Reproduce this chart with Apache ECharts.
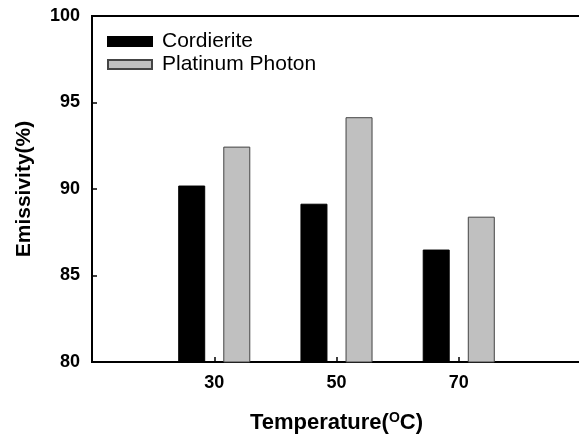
<!DOCTYPE html>
<html>
<head>
<meta charset="utf-8">
<script src="https://cdn.jsdelivr.net/npm/echarts@6/dist/echarts.min.js"></script>
<style>
  html, body { margin: 0; padding: 0; background: #fff; overflow: hidden; }
  #chart { width: 584px; height: 439px; }
</style>
</head>
<body>
<div id="chart"></div>
<script>
// temperatures, padded with empty slots so the axis runs 10..90
var temps = ['10', '30', '50', '70', '90'];
var cordierite = [null, 90.2, 89.15, 86.5, null];
var platinum = [null, 92.45, 94.15, 88.4, null];
var yTicks = [80, 85, 90, 95, 100];

var myChart = echarts.init(document.getElementById('chart'));
var font = 'Liberation Sans, Arial, sans-serif';

var option = {
    animation: false,
    grid: {
        left: 92,
        top: 16,
        right: 0,
        bottom: 76,
        show: true,
        borderColor: '#000',
        borderWidth: 2
    },
    legend: {
        orient: 'vertical',
        left: 102,
        top: 26,
        itemWidth: 44,
        itemHeight: 9,
        itemGap: 2,
        icon: 'rect',
        textStyle: { fontFamily: font, fontSize: 21, color: '#000', padding: [0, 0, 0, 5] },
        data: ['Cordierite', 'Platinum Photon']
    },
    xAxis: {
        type: 'category',
        data: temps,
        boundaryGap: false,
        name: 'Temperature({sup|O}C)',
        nameLocation: 'middle',
        nameGap: 49,
        nameTextStyle: {
            fontFamily: font, fontSize: 22, fontWeight: 'bold', color: '#000',
            rich: { sup: { fontFamily: font, fontSize: 14, fontWeight: 'bold', color: '#000', verticalAlign: 'top', padding: [0, 0, 10, 0] } }
        },
        axisLine: { lineStyle: { color: '#000', width: 2 } },
        axisTick: {
            inside: true, length: 5, lineStyle: { color: '#000', width: 1.5 },
            interval: function (i) { return i > 0 && i < temps.length - 1; }
        },
        axisLabel: {
            fontFamily: font, fontSize: 18, fontWeight: 'bold', color: '#000', margin: 12,
            interval: 0,
            formatter: function (v, i) { return (i > 0 && i < temps.length - 1) ? v : ''; }
        },
        splitLine: { show: false }
    },
    yAxis: {
        type: 'value',
        min: yTicks[0],
        max: yTicks[yTicks.length - 1],
        interval: 5,
        name: 'Emissivity(%)',
        nameLocation: 'middle',
        nameGap: 57,
        nameTextStyle: { fontFamily: font, fontSize: 21, fontWeight: 'bold', color: '#000' },
        axisLine: { show: true, lineStyle: { color: '#000', width: 2 } },
        axisTick: { show: true, inside: true, length: 5, lineStyle: { color: '#000', width: 1.5 } },
        axisLabel: { fontFamily: font, fontSize: 18, fontWeight: 'bold', color: '#000', margin: 12 },
        splitLine: { show: false }
    },
    series: [
        {
            name: 'Cordierite',
            type: 'bar',
            data: cordierite,
            barWidth: 27,
            barGap: '67%',
            itemStyle: { color: '#000', borderColor: '#000', borderWidth: 1 }
        },
        {
            name: 'Platinum Photon',
            type: 'bar',
            data: platinum,
            barWidth: 27,
            itemStyle: { color: '#c0c0c0', borderColor: '#444', borderWidth: 1 }
        }
    ]
};
myChart.setOption(option);
</script>
</body>
</html>
